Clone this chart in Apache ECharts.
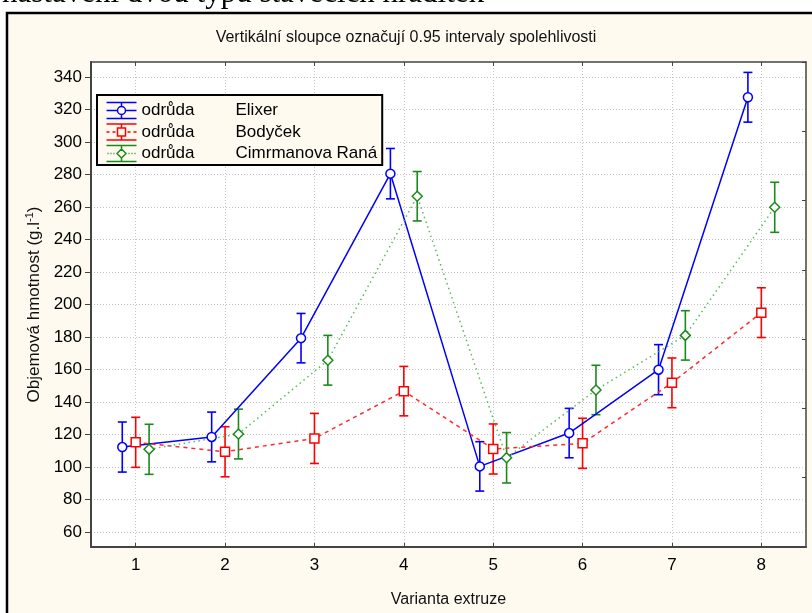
<!DOCTYPE html>
<html>
<head>
<meta charset="utf-8">
<script src="https://cdn.jsdelivr.net/npm/echarts@6/dist/echarts.min.js"></script>
<style>
  html, body { margin: 0; padding: 0; background: #fff; }
  #chart { width: 812px; height: 613px; }
</style>
</head>
<body>
<div id="chart"></div>
<script>
// varianty extruze (osa x) a popisky osy y
const variants = [1, 2, 3, 4, 5, 6, 7, 8];
const yTicks = [60, 80, 100, 120, 140, 160, 180, 200, 220, 240, 260, 280, 300, 320, 340];

// odrůdy
const varieties = ['Elixer', 'Bodyček', 'Cimrmanova Raná'];

// průměry a polovina 0.95 intervalu spolehlivosti
const elixerMean = [112.3, 118.5, 179.3, 280.5, 100.4, 120.9, 159.9, 327.5];
const elixerCI = [15.4, 15.3, 15.2, 15.5, 15.2, 15.2, 15.4, 15.3];
const bodycekMean = [115.2, 109.4, 117.6, 146.7, 111.1, 114.6, 151.8, 195.0];
const bodycekCI = [15.4, 15.4, 15.4, 15.2, 15.4, 15.4, 15.3, 15.3];
const cimrmanovaMean = [110.9, 120.3, 165.7, 266.6, 105.7, 147.4, 181.0, 259.8];
const cimrmanovaCI = [15.4, 15.3, 15.3, 15.2, 15.5, 15.2, 15.2, 15.4];

const colors = ['#0000ff', '#ff0000', '#1a8a1a'];
const lineColors = ['#0000ff', '#ff2a2a', '#5cb85c'];
const offsets = [-0.15, 0, 0.15];

const chart = echarts.init(document.getElementById('chart'));

function errorBars(name, means, ci, offset, color) {
  return {
    type: 'custom',
    name: name,
    z: 1,
    silent: true,
    data: variants.map((v, i) => [v + offset, means[i] - ci[i], means[i] + ci[i]]),
    encode: { x: 0, y: [1, 2] },
    renderItem(params, api) {
      const lo = api.coord([api.value(0), api.value(1)]);
      const hi = api.coord([api.value(0), api.value(2)]);
      const w = 4.5;
      const st = { stroke: color, lineWidth: 1.6 };
      return {
        type: 'group',
        children: [
          { type: 'line', shape: { x1: lo[0], y1: lo[1], x2: hi[0], y2: hi[1] }, style: st },
          { type: 'line', shape: { x1: hi[0] - w, y1: hi[1], x2: hi[0] + w, y2: hi[1] }, style: st },
          { type: 'line', shape: { x1: lo[0] - w, y1: lo[1], x2: lo[0] + w, y2: lo[1] }, style: st }
        ]
      };
    }
  };
}

function meanLine(name, means, offset, color, lineColor, symbol, size, lineType) {
  return {
    type: 'line',
    name: name,
    z: 3,
    data: variants.map((v, i) => [v + offset, means[i]]),
    symbol: symbol,
    symbolSize: size,
    itemStyle: { color: '#fff', borderColor: color, borderWidth: 1.5 },
    lineStyle: { color: lineColor, width: 1.5, type: lineType },
    emphasis: { disabled: true }
  };
}

// ikonky legendy: chybová úsečka se značkou
const legendIcons = [
  'path://M0,0.5H30M0,16.5H30M15,0.5V4.5M15,12.5V16.5M0,8.5H11M19,8.5H30M11,8.5A4,4 0 1,1 19,8.5A4,4 0 1,1 11,8.5Z',
  'path://M0,0.5H30M0,16.5H30M15,0.5V4.5M15,12.5V16.5M0,8.5H3M6,8.5H9M11,4.5H19V12.5H11ZM21,8.5H24M27,8.5H30',
  'path://M0,0.5H30M0,16.5H30M15,0.5V4M15,13V16.5M1,8.5H2M4,8.5H5M7,8.5H8M10.5,8.5L15,4L19.5,8.5L15,13ZM22,8.5H23M25,8.5H26M28,8.5H29'
];

const option = {
  backgroundColor: '#fff',
  animation: false,
  textStyle: { fontFamily: 'Liberation Sans, Arial, sans-serif' },
  graphic: [
    {
      type: 'rect', z: -100,
      shape: { x: 7, y: 13, width: 840, height: 650 },
      style: { fill: '#fefaf0', stroke: '#000', lineWidth: 2.5 }
    },
    {
      type: 'text', x: 2, y: 9, z: 10,
      style: {
        text: 'nastavení dvou typů stavěcích hradítek',
        font: '31px "Liberation Serif", "Times New Roman", serif',
        fill: '#000', verticalAlign: 'bottom'
      }
    }
  ],
  title: {
    text: 'Vertikální sloupce označují 0.95 intervaly spolehlivosti',
    left: 'center', top: 25,
    textStyle: { fontSize: 16, fontWeight: 'normal', color: '#111', fontFamily: 'Liberation Sans, Arial, sans-serif' }
  },
  legend: {
    orient: 'vertical',
    left: 97, top: 95,
    padding: [5, 5, 1, 7],
    itemWidth: 30, itemHeight: 17, itemGap: 0.5,
    backgroundColor: '#fefaf0',
    borderColor: '#000', borderWidth: 2,
    selectedMode: false,
    data: varieties.map((n, i) => ({
      name: n,
      icon: legendIcons[i],
      itemStyle: { color: 'none', borderColor: colors[i], borderWidth: 1.5 }
    })),
    formatter: name => '{a|odrůda}{b|' + name + '}',
    textStyle: {
      color: '#000',
      lineHeight: 19,
      rich: {
        a: { width: 94, fontSize: 17, lineHeight: 19, fontFamily: 'Liberation Sans, Arial, sans-serif' },
        b: { fontSize: 17, lineHeight: 19, fontFamily: 'Liberation Sans, Arial, sans-serif' }
      }
    }
  },
  grid: {
    left: 91, right: 6, top: 62, bottom: 66,
    show: true, backgroundColor: '#fff', borderWidth: 0
  },
  xAxis: [
    {
      type: 'value', min: 0.5, max: 8.5,
      name: 'Varianta extruze', nameLocation: 'middle', nameGap: 45,
      nameTextStyle: { fontSize: 16, color: '#111' },
      axisLine: { lineStyle: { color: '#444', width: 2 } },
      axisTick: { inside: true, length: 4, customValues: variants, lineStyle: { color: '#444' } },
      axisLabel: { customValues: variants, fontSize: 17, color: '#000', margin: 10 },
      splitLine: { show: true, lineStyle: { color: '#c4c4c4', type: [1, 2] } }
    },
    {
      type: 'value', min: 0.5, max: 8.5, position: 'top',
      axisLine: { onZero: false, lineStyle: { color: '#444', width: 1.5 } },
      axisTick: { inside: true, length: 4, customValues: variants, lineStyle: { color: '#444' } },
      axisLabel: { show: false },
      splitLine: { show: false }
    }
  ],
  yAxis: [
    {
      type: 'value', min: 50.8, max: 349.2,
      name: 'Objemová hmotnost (g.l{sup|-1})', nameLocation: 'middle', nameGap: 47,
      nameTextStyle: {
        fontSize: 17, color: '#111',
        rich: { sup: { fontSize: 11, verticalAlign: 'top', padding: [0, 0, 8, 0] } }
      },
      axisLine: { show: true, lineStyle: { color: '#444', width: 2 } },
      axisTick: { show: true, length: 6, customValues: yTicks, lineStyle: { color: '#444' } },
      axisLabel: { customValues: yTicks, fontSize: 17, color: '#000', margin: 9 },
      splitLine: { show: true, lineStyle: { color: '#c4c4c4', type: [1, 2] } }
    },
    {
      type: 'value', min: 0, max: 7, interval: 1, position: 'right',
      axisLine: { show: true, onZero: false, lineStyle: { color: '#444', width: 1.5 } },
      axisTick: { show: true, inside: true, length: 4, lineStyle: { color: '#444' } },
      axisLabel: { show: false },
      splitLine: { show: false }
    }
  ],
  series: [
    errorBars(varieties[0], elixerMean, elixerCI, offsets[0], colors[0]),
    errorBars(varieties[1], bodycekMean, bodycekCI, offsets[1], colors[1]),
    errorBars(varieties[2], cimrmanovaMean, cimrmanovaCI, offsets[2], colors[2]),
    meanLine(varieties[0], elixerMean, offsets[0], colors[0], lineColors[0], 'circle', 9, 'solid'),
    meanLine(varieties[1], bodycekMean, offsets[1], colors[1], lineColors[1], 'rect', 9, [4, 4]),
    meanLine(varieties[2], cimrmanovaMean, offsets[2], colors[2], lineColors[2], 'diamond', 10, [1.5, 3.5])
  ]
};

chart.setOption(option);
</script>
</body>
</html>
